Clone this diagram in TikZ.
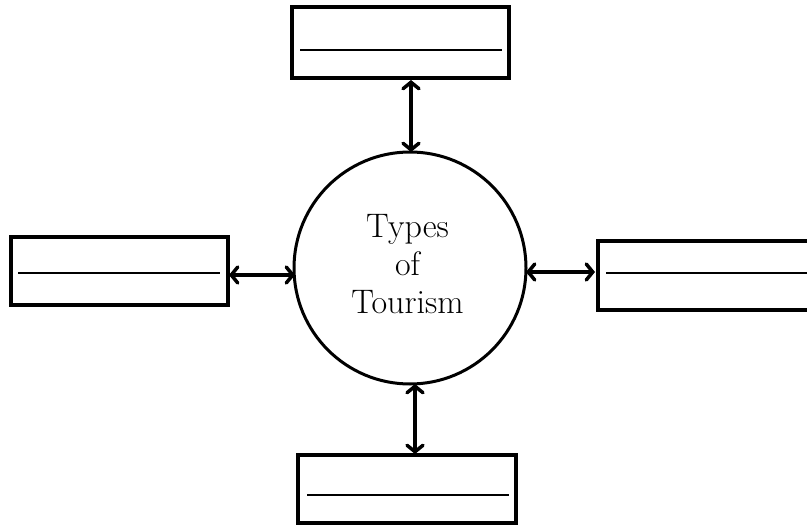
\documentclass[tikz,border=0pt]{standalone}
\usetikzlibrary{arrows.meta}
\begin{document}
\begin{tikzpicture}[x=1pt,y=-1pt,
  blank/.style={draw=black,line width=3.5pt,rectangle,inner sep=0pt},
  fillline/.style={inner sep=0pt},
  link/.style={line width=3.5pt,{Straight Barb[length=6.5pt,width=16pt,line cap=round]}-{Straight Barb[length=6.5pt,width=16pt,line cap=round]}}
]
\useasboundingbox (0,0) rectangle (807,527);
% centre circle
\node[draw=black,line width=3pt,circle,minimum size=232pt,inner sep=0pt] (circ) at (410,268) {};
\node[align=center,font=\fontsize{34}{38}\selectfont] (lbl) at (407.5,264) {Types\\of\\Tourism};
% boxes
\node[blank,minimum width=217pt,minimum height=71pt] (topbox) at (400.5,42.5) {};
\node[blank,minimum width=217pt,minimum height=68pt] (leftbox) at (119.5,271) {};
\node[blank,minimum width=230pt,minimum height=69pt,anchor=west] (rightbox) at (596,275.5) {};
\node[blank,minimum width=218pt,minimum height=68pt] (botbox) at (407,489) {};
% fill-in lines
\node[fillline] (topline) at (401,50) {\rule{202pt}{1.3pt}};
\node[fillline] (leftline) at (119,273) {\rule{202pt}{1.3pt}};
\node[fillline,anchor=west] (rightline) at (606,273) {\rule{210pt}{1.3pt}};
\node[fillline] (botline) at (408,495) {\rule{202pt}{1.3pt}};
% connector end points
\coordinate (tA) at (411,80);
\coordinate (tB) at (411,152);
\coordinate (bA) at (415,384);
\coordinate (bB) at (415,454);
\coordinate (lA) at (229,275);
\coordinate (lB) at (295,275);
\coordinate (rA) at (526,272);
\coordinate (rB) at (595,272);
\draw[link] (tA) -- (tB);
\draw[link] (bA) -- (bB);
\draw[link] (lA) -- (lB);
\draw[link] (rA) -- (rB);
\end{tikzpicture}
\end{document}
